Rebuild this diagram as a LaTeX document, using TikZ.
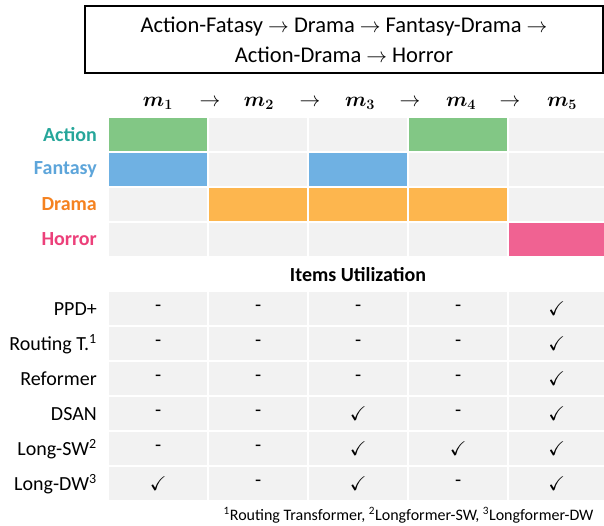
\documentclass[tikz,border=0pt]{standalone}
\usepackage{amssymb}
\usepackage{bm}
\usepackage{fontspec}
\setmainfont{Carlito}
\usetikzlibrary{positioning}

\definecolor{cellgray}{HTML}{F2F2F2}
\definecolor{act}{HTML}{82C785}
\definecolor{fan}{HTML}{6FB1E3}
\definecolor{dra}{HTML}{FDB64E}
\definecolor{hor}{HTML}{F06292}
\definecolor{acttxt}{HTML}{26A69A}
\definecolor{fantxt}{HTML}{5DA5DA}
\definecolor{dratxt}{HTML}{F58220}
\definecolor{hortxt}{HTML}{EC407A}

\tikzset{
  big/.style={font=\fontsize{20}{24}\selectfont},
  cell/.style={anchor=north west, inner sep=0pt, minimum height=33pt, fill=cellgray},
  rowlabel/.style={big, anchor=east, inner sep=0pt},
  tick/.style={big, inner sep=0pt}
}

\begin{document}
\begin{tikzpicture}[x=1pt, y=-1pt]
    \useasboundingbox (0,0) rectangle (604,526);

    % Sequenza dei generi
    \node[draw, line width=1.5pt, minimum width=518pt, minimum height=67pt, align=center,
          font=\fontsize{22.5}{30}\selectfont] (seq) at (344,39.5)
        {Action-Fatasy $\rightarrow$ Drama $\rightarrow$ Fantasy-Drama $\rightarrow$\\
         Action-Drama $\rightarrow$ Horror};

    % Intestazione m_1 ... m_5
    \foreach \k in {1,...,5}
        \node[font=\fontsize{22}{24}\selectfont] (m\k) at ({158+101*(\k-1)},103) {$\bm{m_{\k}}$};
    \foreach \k in {1,...,4}
        \node[font=\fontsize{20}{22}\selectfont] (arr\k) at ({210+100*(\k-1)},103) {$\rightarrow$};

    % Griglia dei generi
    \foreach \g/\cl [count=\r] in {Action/acttxt, Fantasy/fantxt, Drama/dratxt, Horror/hortxt} {
        \node[rowlabel, text=\cl] (lab\r) at (97, {134.5+35*(\r-1)}) {\textbf{\g}};
        \foreach \c in {1,...,5}
            \node[cell, minimum width={98-3*(\c==5)}] (g-\r-\c) at ({109+100*(\c-1)}, {118+35*(\r-1)}) {};
    }
    \foreach \r/\c/\cl in {1/1/act, 1/4/act, 2/1/fan, 2/3/fan, 3/2/dra, 3/3/dra, 3/4/dra, 4/5/hor}
        \node[cell, fill=\cl, minimum width={98-3*(\c==5)}] (on-\r-\c) at (g-\r-\c.north west) {};

    % Utilizzo degli item
    \node[font=\fontsize{20}{24}\selectfont\bfseries] (util) at (358,275) {Items Utilization};

    \foreach \met/\used [count=\r] in {PPD+/{5}, Routing T.\textsuperscript{1}/{5}, Reformer/{5},
                                     DSAN/{3,5}, Long-SW\textsuperscript{2}/{3,4,5}, Long-DW\textsuperscript{3}/{1,3,5}} {
        \node[rowlabel] (met\r) at (97, {309+35*(\r-1)}) {\met};
        \foreach \c in {1,...,5} {
            \gdef\cellsym{-}
            \foreach \u in \used {\ifnum\u=\c\relax\gdef\cellsym{$\checkmark$}\fi}
            \node[cell, minimum width={98-3*(\c==5)}] (u-\r-\c) at ({109+100*(\c-1)}, {292+35*(\r-1)}) {};
            \node[tick] (v-\r-\c) at (u-\r-\c.center) {\cellsym};
        }
    }

    % Note
    \node[anchor=east, font=\fontsize{16}{18}\selectfont] (note) at (597,515)
        {\textsuperscript{1}Routing Transformer, \textsuperscript{2}Longformer-SW, \textsuperscript{3}Longformer-DW};
\end{tikzpicture}
\end{document}
